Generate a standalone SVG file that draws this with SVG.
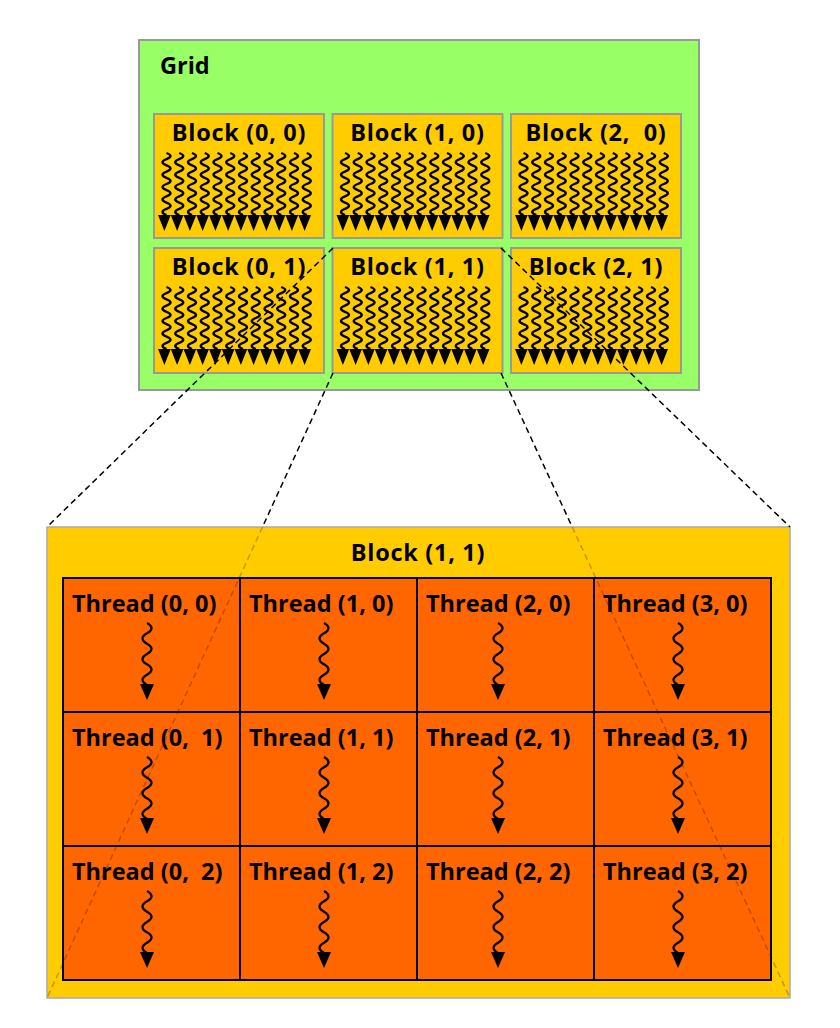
<svg xmlns="http://www.w3.org/2000/svg" width="840" height="1028" viewBox="0 0 840 1028">
<style>
.lbl{font-family:"Open Sans","Noto Sans","DejaVu Sans",sans-serif;font-weight:bold;font-size:23.5px;fill:#000;white-space:pre}
.bl{letter-spacing:0.7px}
.grid{fill:#99ff66;stroke:#999;stroke-width:2}
.blk{fill:#ffcc00;stroke:#999;stroke-width:2}
.cell{fill:#ff6600;stroke:#000;stroke-width:2}
.sq{fill:none;stroke:#000;stroke-width:2.4}
.sqt{fill:none;stroke:#000;stroke-width:2.3}
.dash{fill:none;stroke:#000;stroke-width:1.5;stroke-dasharray:6 4}
.faint{stroke-opacity:0.25}
</style>
<defs>
<g id="s1"><path class="sq" d="M0,0 q8,3.1 0,6.2 t0,6.2 t0,6.2 t0,6.2 t0,6.2 t0,6.2 t0,6.2 t0,6.2 t0,6.2 t0,6.2"/></g>
<g id="warps">
<use href="#s1" x="12.5" y="39"/><use href="#s1" x="25.25" y="39"/><use href="#s1" x="38" y="39"/><use href="#s1" x="50.75" y="39"/>
<use href="#s1" x="63.5" y="39"/><use href="#s1" x="76.25" y="39"/><use href="#s1" x="89" y="39"/><use href="#s1" x="101.75" y="39"/>
<use href="#s1" x="114.5" y="39"/><use href="#s1" x="127.25" y="39"/><use href="#s1" x="140" y="39"/><use href="#s1" x="152.75" y="39"/>
<path fill="#000" d="M4,101 L157,101 L150.625,117 L144.25,101 L137.875,117 L131.5,101 L125.125,117 L118.75,101 L112.375,117 L106,101 L99.625,117 L93.25,101 L86.875,117 L80.5,101 L74.125,117 L67.75,101 L61.375,117 L55,101 L48.625,117 L42.25,101 L35.875,117 L29.5,101 L23.125,117 L16.75,101 L10.375,117 Z"/>
</g>
<g id="thr">
<path class="sqt" d="M84,45 q9,5.17 0,10.33 t0,10.33 t0,10.33 t0,10.33 t0,10.33 t0,10.33"/>
<polygon points="77,106 91,106 84,122" fill="#000"/>
</g>
</defs>

<g id="grid">
<rect class="grid" x="139" y="40" width="560" height="350"/>
<text class="lbl" x="160" y="74">Grid</text>
</g>

<g id="block-0-0"><rect class="blk" x="154" y="114" width="170" height="124"/><text class="lbl bl" x="239" y="141" text-anchor="middle">Block (0, 0)</text><use href="#warps" x="154" y="114"/></g>
<g id="block-1-0"><rect class="blk" x="332.5" y="114" width="170" height="124"/><text class="lbl bl" x="417.5" y="141" text-anchor="middle">Block (1, 0)</text><use href="#warps" x="332.5" y="114"/></g>
<g id="block-2-0"><rect class="blk" x="511" y="114" width="170" height="124"/><text class="lbl bl" x="596" y="141" text-anchor="middle">Block (2,  0)</text><use href="#warps" x="511" y="114"/></g>
<g id="block-0-1"><rect class="blk" x="154" y="248" width="170" height="125"/><text class="lbl bl" x="239" y="275" text-anchor="middle">Block (0, 1)</text><use href="#warps" x="154" y="248"/></g>
<g id="block-1-1"><rect class="blk" x="332.5" y="248" width="170" height="125"/><text class="lbl bl" x="417.5" y="275" text-anchor="middle">Block (1, 1)</text><use href="#warps" x="332.5" y="248"/></g>
<g id="block-2-1"><rect class="blk" x="511" y="248" width="170" height="125"/><text class="lbl bl" x="596" y="275" text-anchor="middle">Block (2, 1)</text><use href="#warps" x="511" y="248"/></g>

<g id="block-detail">
<rect x="47" y="527" width="743" height="471" fill="#ffcc00" stroke="#aaa" stroke-width="1.5"/>
<text class="lbl bl" x="418" y="561" text-anchor="middle">Block (1, 1)</text>
</g>

<g id="thread-0-0"><rect class="cell" x="63" y="578" width="177" height="134"/><text class="lbl" x="72" y="612">Thread (0, 0)</text><use href="#thr" x="63" y="578"/></g>
<g id="thread-1-0"><rect class="cell" x="240" y="578" width="177" height="134"/><text class="lbl" x="249" y="612">Thread (1, 0)</text><use href="#thr" x="240" y="578"/></g>
<g id="thread-2-0"><rect class="cell" x="417" y="578" width="177" height="134"/><text class="lbl" x="426" y="612">Thread (2, 0)</text><use href="#thr" x="414" y="578"/></g>
<g id="thread-3-0"><rect class="cell" x="594" y="578" width="177" height="134"/><text class="lbl" x="603" y="612">Thread (3, 0)</text><use href="#thr" x="594" y="578"/></g>
<g id="thread-0-1"><rect class="cell" x="63" y="712" width="177" height="134"/><text class="lbl" x="72" y="746">Thread (0,  1)</text><use href="#thr" x="63" y="712"/></g>
<g id="thread-1-1"><rect class="cell" x="240" y="712" width="177" height="134"/><text class="lbl" x="249" y="746">Thread (1, 1)</text><use href="#thr" x="240" y="712"/></g>
<g id="thread-2-1"><rect class="cell" x="417" y="712" width="177" height="134"/><text class="lbl" x="426" y="746">Thread (2, 1)</text><use href="#thr" x="414" y="712"/></g>
<g id="thread-3-1"><rect class="cell" x="594" y="712" width="177" height="134"/><text class="lbl" x="603" y="746">Thread (3, 1)</text><use href="#thr" x="594" y="712"/></g>
<g id="thread-0-2"><rect class="cell" x="63" y="846" width="177" height="134"/><text class="lbl" x="72" y="880">Thread (0,  2)</text><use href="#thr" x="63" y="846"/></g>
<g id="thread-1-2"><rect class="cell" x="240" y="846" width="177" height="134"/><text class="lbl" x="249" y="880">Thread (1, 2)</text><use href="#thr" x="240" y="846"/></g>
<g id="thread-2-2"><rect class="cell" x="417" y="846" width="177" height="134"/><text class="lbl" x="426" y="880">Thread (2, 2)</text><use href="#thr" x="414" y="846"/></g>
<g id="thread-3-2"><rect class="cell" x="594" y="846" width="177" height="134"/><text class="lbl" x="603" y="880">Thread (3, 2)</text><use href="#thr" x="594" y="846"/></g>

<g id="connectors">
<line class="dash" x1="333" y1="248" x2="47" y2="527"/>
<line class="dash" x1="501" y1="248" x2="790" y2="527"/>
<line class="dash" x1="333" y1="373" x2="262.5" y2="527"/>
<line class="dash" x1="501" y1="373" x2="572.2" y2="527"/>
<line class="dash faint" x1="262.5" y1="527" x2="47" y2="998"/>
<line class="dash faint" x1="572.2" y1="527" x2="790" y2="998"/>
</g>
</svg>
